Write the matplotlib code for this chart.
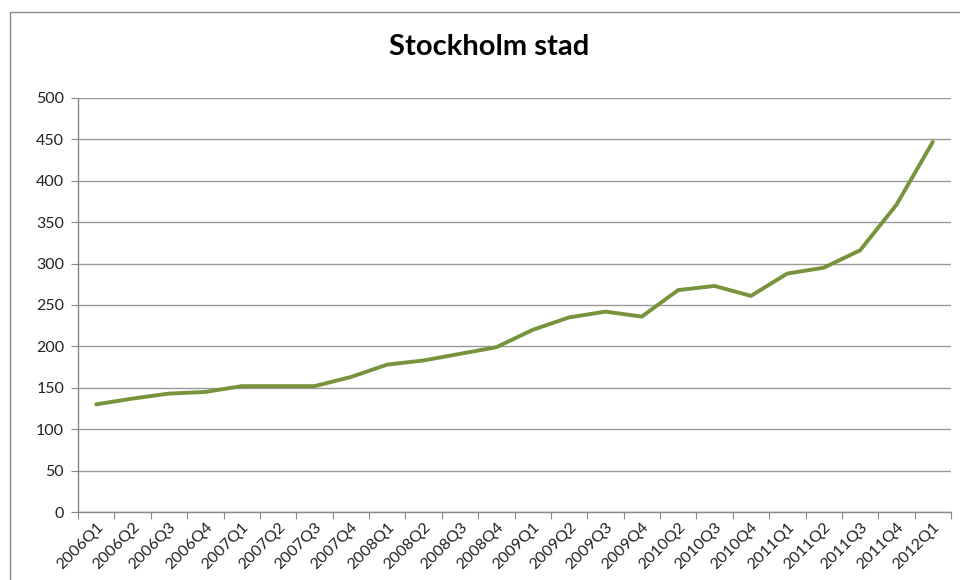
import matplotlib
matplotlib.use("Agg")
import matplotlib.pyplot as plt
from matplotlib.patches import Rectangle

categories = ["2006Q1", "2006Q2", "2006Q3", "2006Q4",
              "2007Q1", "2007Q2", "2007Q3", "2007Q4",
              "2008Q1", "2008Q2", "2008Q3", "2008Q4",
              "2009Q1", "2009Q2", "2009Q3", "2009Q4",
              "2010Q2", "2010Q3", "2010Q4",
              "2011Q1", "2011Q2", "2011Q3", "2011Q4",
              "2012Q1"]
values = [130, 137, 143, 145,
          152, 152, 152, 163,
          178, 183, 191, 199,
          220, 235, 242, 236,
          268, 273, 261,
          288, 295, 316, 371,
          447]
yticks = list(range(0, 501, 50))

plt.rcParams['font.family'] = ['Lato', 'DejaVu Sans']

fig = plt.figure(figsize=(9.6, 5.8), dpi=100)
fig.patch.set_facecolor('white')
fig.add_artist(Rectangle((10 / 960, -0.05), 960, 1 - 12 / 580 + 0.05,
                         transform=fig.transFigure, fill=False,
                         edgecolor='#888888', linewidth=1.0))

ax = fig.add_axes([78 / 960, 1 - 512 / 580, (951 - 78) / 960, (512 - 98) / 580])
n = len(categories)
x = [i + 0.5 for i in range(n)]
ax.plot(x, values, color='#77933C', linewidth=2.8, solid_joinstyle='round',
        solid_capstyle='round', zorder=3)

ax.set_xlim(0, n)
ax.set_ylim(0, 500)
ax.set_yticks(yticks)
ax.set_yticklabels([str(v) for v in yticks], fontsize=11.5, color='#222222')
ax.yaxis.grid(True, color='#9a9a9a', linewidth=1.0)
ax.set_axisbelow(True)

ax.set_xticks(range(n + 1))
ax.set_xticklabels([])
ax.set_xticks(x, minor=True)
ax.set_xticklabels(categories, minor=True, rotation=45, ha='right',
                   rotation_mode='anchor', fontsize=11.5, color='#222222')
ax.tick_params(axis='x', which='minor', length=0, pad=6)
ax.tick_params(axis='x', which='major', length=5, color='#888888', direction='out')
ax.tick_params(axis='y', length=5, color='#888888', direction='out', pad=5)

for s in ['top', 'right']:
    ax.spines[s].set_visible(False)
for s in ['left', 'bottom']:
    ax.spines[s].set_color('#888888')
    ax.spines[s].set_linewidth(1.0)

fig.text(489 / 960, 1 - 47 / 580, "Stockholm stad", ha='center', va='center',
         fontsize=21, fontweight='bold', color='black')

fig.savefig("out.png", dpi=100, facecolor='white')
